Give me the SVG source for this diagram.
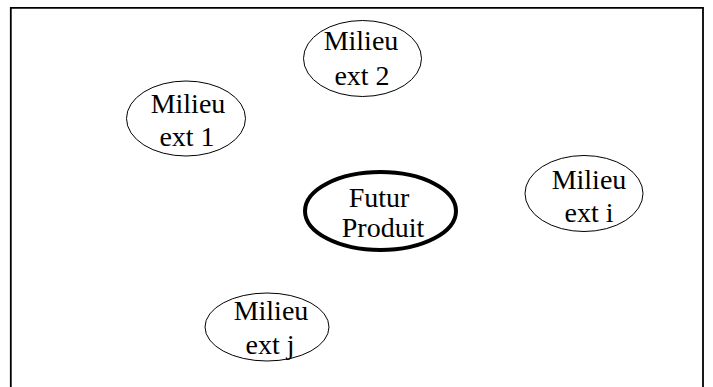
<svg xmlns="http://www.w3.org/2000/svg" width="713" height="387" viewBox="0 0 713 387">
<style>
.e{fill:#fff;stroke:#000;stroke-width:1}
.b{fill:#fff;stroke:#000;stroke-width:4}
text{font-family:"Liberation Serif","Times New Roman",serif;font-size:28px;fill:#000;text-anchor:middle}
.frame{fill:none;stroke:#000;stroke-width:1.8}
</style>
<rect width="713" height="387" fill="#fff"/>
<path class="frame" d="M10.8,387 V7.8 H703 V387"/>
<g id="connectors"></g>
<g id="ext2">
<ellipse class="e" cx="362.5" cy="58.5" rx="59" ry="38"/>
<text x="361" y="50">Milieu</text>
<text x="362" y="85">ext 2</text>
</g>
<g id="ext1">
<ellipse class="e" cx="186" cy="118.5" rx="59.5" ry="37.5"/>
<text x="188" y="113">Milieu</text>
<text x="187" y="146">ext 1</text>
</g>
<g id="exti">
<ellipse class="e" cx="584" cy="193.5" rx="59" ry="38"/>
<text x="589" y="189">Milieu</text>
<text x="589" y="222">ext i</text>
</g>
<g id="futur">
<ellipse class="b" cx="380.5" cy="211" rx="75.5" ry="39"/>
<text x="379" y="207">Futur</text>
<text x="383" y="237">Produit</text>
</g>
<g id="extj">
<ellipse class="e" cx="267" cy="327" rx="62" ry="34"/>
<text x="271" y="320">Milieu</text>
<text x="270" y="354">ext j</text>
</g>
</svg>
